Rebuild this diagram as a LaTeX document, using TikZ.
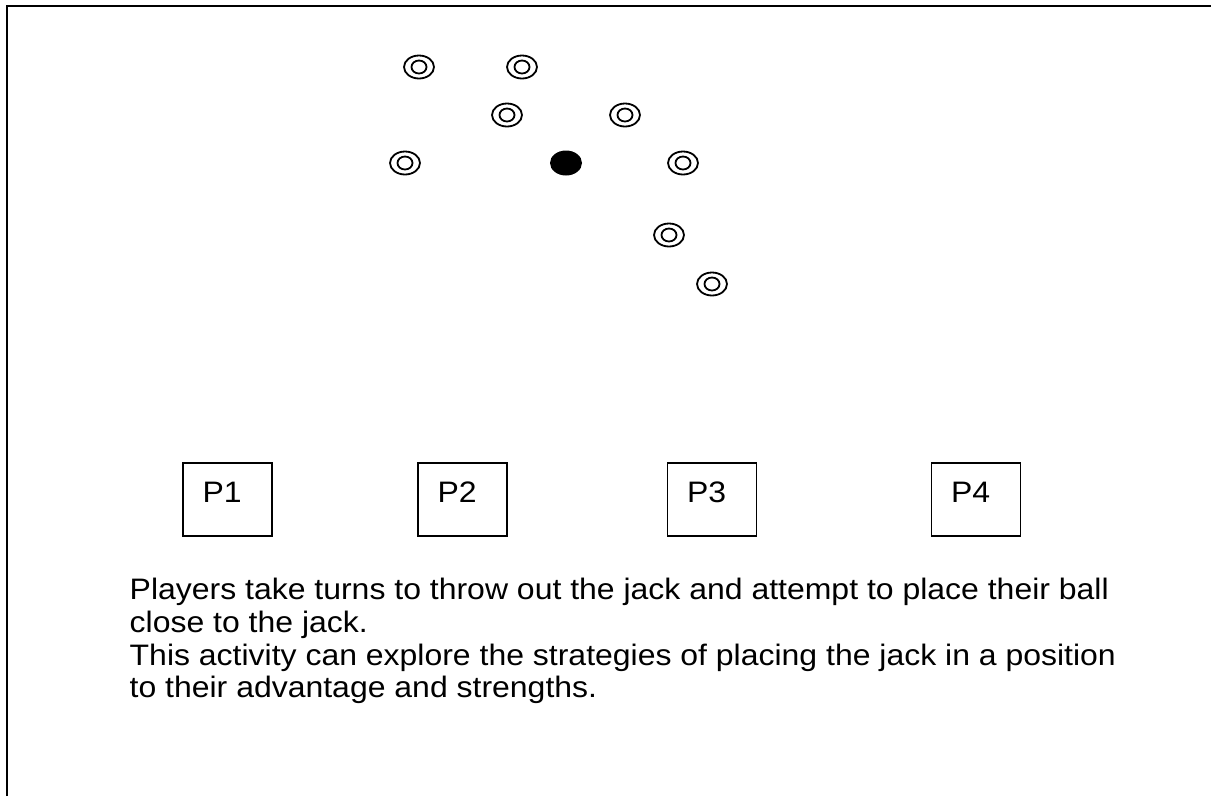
\documentclass[tikz,border=0pt]{standalone}
\usepackage{fontspec}
\setmainfont{Liberation Sans}[FakeStretch=1.08]
\usetikzlibrary{shapes.geometric,calc}

\begin{document}
\begin{tikzpicture}[x=1pt,y=-1pt]
        \tikzstyle{ball} = [ellipse,draw=black,line width=1.8pt,minimum width=30pt,minimum height=23pt,inner sep=0pt,
                path picture={\draw[line width=1.8pt] (path picture bounding box.center) ellipse [x radius=7.5pt,y radius=6.5pt];}]
        \tikzstyle{jack} = [ellipse,fill=black,minimum width=32pt,minimum height=25pt,inner sep=0pt]
        \tikzstyle{pbox} = [rectangle,draw=black,line width=1.3pt,minimum width=89pt,minimum height=73pt,inner sep=0pt]
        \tikzstyle{plabel} = [anchor=base west,inner sep=0pt,font=\fontsize{29.6}{33}\selectfont]
        \useasboundingbox (0,0) rectangle (1211,796);
        \draw[line width=2pt] (7,796) -- (7,6) -- (1211,6);
        % balls round the jack
        \node[ball] (b1) at (419,67) {};
        \node[ball] (b2) at (522,67) {};
        \node[ball] (b3) at (507,115) {};
        \node[ball] (b4) at (625,115) {};
        \node[ball] (b5) at (405,163) {};
        \node[jack] (jack) at (566,163) {};
        \node[ball] (b6) at (683,163) {};
        \node[ball] (b7) at (669,235) {};
        \node[ball] (b8) at (712,284) {};
        % players
        \node[pbox] (p1) at (227.5,499.5) {};
        \node[pbox] (p2) at (462.5,499.5) {};
        \node[pbox] (p3) at (712,499.5) {};
        \node[pbox] (p4) at (976,499.5) {};
        \node[plabel] (t1) at ($(p1.north west)+(20,40)$) {P1};
        \node[plabel] (t2) at ($(p2.north west)+(20,40)$) {P2};
        \node[plabel] (t3) at ($(p3.north west)+(20,40)$) {P3};
        \node[plabel] (t4) at ($(p4.north west)+(20,40)$) {P4};
        % notes
        \node[plabel] (n1) at (129.5,599) {Players take turns to throw out the jack and attempt to place their ball};
        \node[plabel] (n2) at (129.5,632) {close to the jack.};
        \node[plabel] (n3) at (129.5,665) {This activity can explore the strategies of placing the jack in a position};
        \node[plabel] (n4) at (129.5,697) {to their advantage and strengths.};
\end{tikzpicture}
\end{document}
